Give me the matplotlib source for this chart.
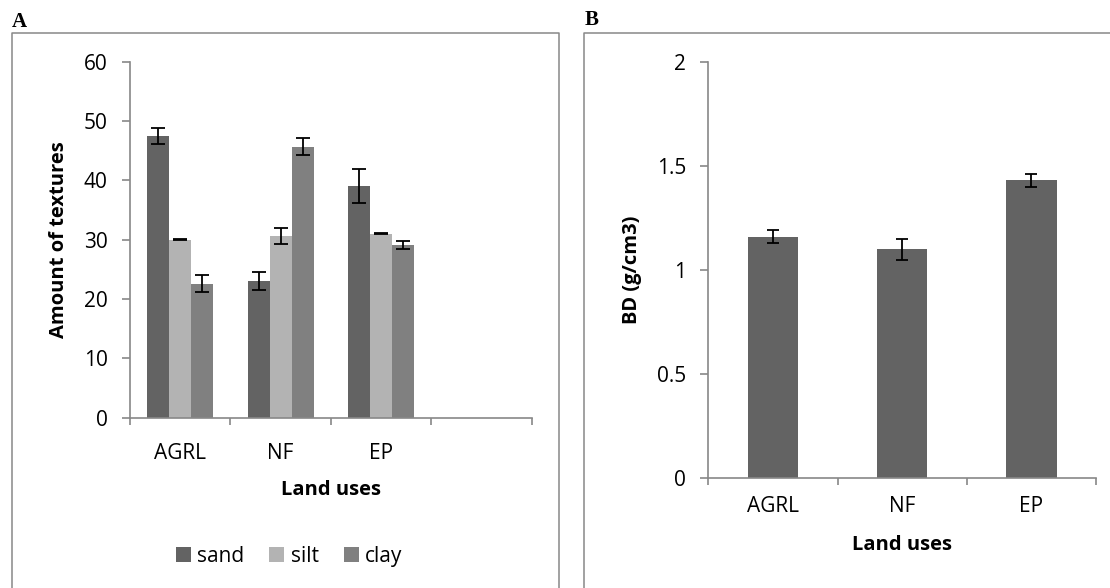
import numpy as np
import matplotlib
matplotlib.use("Agg")
import matplotlib.pyplot as plt
from matplotlib.lines import Line2D
from matplotlib.patches import Patch

# Panel A: soil texture by land use
land_uses_a = ["AGRL", "NF", "EP", ""]
texture_names = ["sand", "silt", "clay"]
sand = [47.4, 23.0, 39.0]
silt = [30.0, 30.6, 31.0]
clay = [22.6, 45.7, 29.1]
sand_err = [1.35, 1.5, 2.85]
silt_err = [0.1, 1.3, 0.1]
clay_err = [1.45, 1.5, 0.7]

# Panel B: bulk density
land_uses_b = ["AGRL", "NF", "EP"]
bd = [1.16, 1.10, 1.43]
bd_err = [0.03, 0.05, 0.03]

texture_colors = ["#636363", "#b3b3b3", "#808080"]
bd_color = "#636363"
axis_grey = "#888888"

plt.rcParams["font.family"] = ["Open Sans", "DejaVu Sans"]

W, H = 1110, 588
fig = plt.figure(figsize=(W / 100, H / 100), dpi=100)

TICK_FS = 15
LABEL_FS = 14.5


def px_axes(left, top, right, bottom):
    return fig.add_axes([left / W, 1 - bottom / H, (right - left) / W, (bottom - top) / H])


def style_axes(ax, n_cats, labels, label_pad):
    for side in ("top", "right"):
        ax.spines[side].set_visible(False)
    for side in ("left", "bottom"):
        ax.spines[side].set_color(axis_grey)
        ax.spines[side].set_linewidth(1.2)
    ax.set_xlim(-0.5, n_cats - 0.5)
    ax.set_xticks(np.arange(n_cats + 1) - 0.5)
    ax.set_xticklabels([])
    ax.set_xticks(np.arange(n_cats), minor=True)
    ax.set_xticklabels(labels, minor=True, fontsize=TICK_FS)
    ax.tick_params(axis="x", which="major", direction="out", length=5, width=1.2, color=axis_grey)
    ax.tick_params(axis="x", which="minor", length=0, pad=label_pad)
    ax.tick_params(axis="y", direction="out", length=6, width=1.2, color=axis_grey,
                   labelsize=TICK_FS, pad=10)


err_style = dict(ecolor="black", elinewidth=1.3, capthick=1.3)

# ---- panel A
axA = px_axes(130, 61.7, 531.7, 417.7)
x = np.arange(3)
bw = 0.2185
series = [(sand, sand_err), (silt, silt_err), (clay, clay_err)]
for i, (vals, errs) in enumerate(series):
    axA.bar(x + (i - 1) * bw, vals, bw, color=texture_colors[i], label=texture_names[i],
            yerr=errs, capsize=5, error_kw=err_style)
axA.set_ylim(0, 60)
axA.set_yticks([0, 10, 20, 30, 40, 50, 60])
style_axes(axA, 4, land_uses_a, 18)
axA.set_ylabel("Amount of textures", fontsize=LABEL_FS, fontweight="bold")
axA.yaxis.set_label_coords((59 - 130) / 401.7, 0.5)
axA.yaxis.label.set_va("center")
axA.set_xlabel("Land uses", fontsize=LABEL_FS, fontweight="bold")
axA.xaxis.label.set_va("center")
axA.xaxis.set_label_coords(0.5, (417.7 - 490) / 356)

handles = [Patch(facecolor=c, label=n) for c, n in zip(texture_colors, texture_names)]
fig.legend(handles=handles, loc="center", bbox_to_anchor=(289 / W, 1 - 556.7 / H), ncol=3,
           frameon=False, fontsize=TICK_FS, handlelength=0.72, handleheight=0.72,
           handletextpad=0.3, columnspacing=1.2, borderpad=0)

# ---- panel B
axB = px_axes(708.3, 61.7, 1096, 478.3)
xb = np.arange(3)
axB.bar(xb, bd, 0.39, color=bd_color, yerr=bd_err, capsize=4.5, error_kw=err_style)
axB.set_ylim(0, 2)
axB.set_yticks([0, 0.5, 1, 1.5, 2])
axB.set_yticklabels(["0", "0.5", "1", "1.5", "2"])
style_axes(axB, 3, land_uses_b, 13)
axB.set_ylabel("BD (g/cm3)", fontsize=LABEL_FS, fontweight="bold")
axB.yaxis.set_label_coords((632 - 708.3) / 387.7, 0.5)
axB.yaxis.label.set_va("center")
axB.set_xlabel("Land uses", fontsize=LABEL_FS, fontweight="bold")
axB.xaxis.label.set_va("center")
axB.xaxis.set_label_coords(0.5, (478.3 - 545) / 416.6)

# chart-area frames (cut off by the image edge like the original)
frame_kw = dict(color=axis_grey, linewidth=1.1, transform=fig.transFigure)
def fx(v):
    return v / W
def fy(v):
    return 1 - v / H
fig.add_artist(Line2D([fx(11.5), fx(11.5), fx(558.8), fx(558.8)],
                      [fy(600), fy(33.3), fy(33.3), fy(600)], **frame_kw))
fig.add_artist(Line2D([fx(583.5), fx(583.5), fx(1120)],
                      [fy(600), fy(33.3), fy(33.3)], **frame_kw))

fig.text(fx(19), fy(22), "A", fontsize=15, fontweight="bold", family="Liberation Serif",
         ha="center", va="center")
fig.text(fx(591.7), fy(20), "B", fontsize=15, fontweight="bold", family="Liberation Serif",
         ha="center", va="center")

fig.savefig("out.png", dpi=100)
